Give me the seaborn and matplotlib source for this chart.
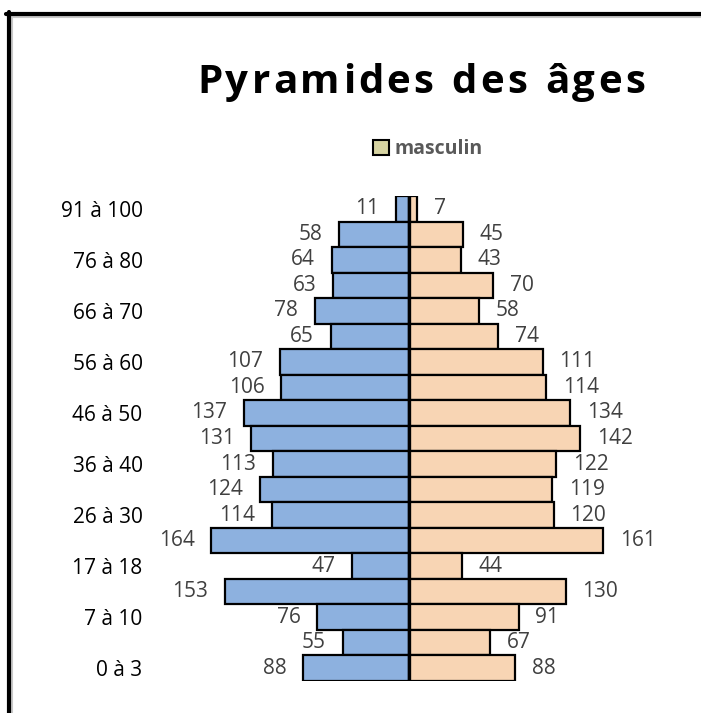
import pandas as pd
import seaborn as sns
import matplotlib.pyplot as plt
from matplotlib.patches import Patch
from matplotlib.lines import Line2D

# tranches d'âge, du bas vers le haut
tranches = ['0 à 3', '4 à 6', '7 à 10', '11 à 16', '17 à 18', '19 à 25',
            '26 à 30', '31 à 35', '36 à 40', '41 à 45', '46 à 50', '51 à 55',
            '56 à 60', '61 à 65', '66 à 70', '71 à 75', '76 à 80', '81 à 90',
            '91 à 100']
feminin = [88, 55, 76, 153, 47, 164, 114, 124, 113, 131, 137, 106, 107,
           65, 78, 63, 64, 58, 11]
masculin = [88, 67, 91, 130, 44, 161, 120, 119, 122, 142, 134, 114, 111,
            74, 58, 70, 43, 45, 7]
titre = 'Pyramides des âges'


def titre_espace(fig, texte, x0, x1, y, **kw):
    # pas de letter-spacing dans matplotlib : on pose les lettres une par une
    r = fig.canvas.get_renderer()
    largeurs = []
    for c in texte:
        t = fig.text(0, 0, c, **kw)
        largeurs.append(t.get_window_extent(r).width if c != ' ' else None)
        t.remove()
    esp = fig.text(0, 0, 'n', **kw)
    w_esp = esp.get_window_extent(r).width * 0.45
    esp.remove()
    largeurs = [w if w is not None else w_esp for w in largeurs]
    W = fig.get_figwidth() * fig.dpi
    total = (x1 - x0) * W
    gap = (total - sum(largeurs)) / (len(texte) - 1)
    x = x0 * W
    for c, w in zip(texte, largeurs):
        fig.text(x / W, y, c, ha='left', va='baseline', **kw)
        x += w + gap


def main():
    sns.set_style('white')
    plt.rcParams['font.family'] = ['Open Sans', 'DejaVu Sans']

    df = pd.DataFrame({'tranche': tranches,
                       'feminin': [-v for v in feminin],
                       'masculin': masculin})
    order = tranches[::-1]  # seaborn met la première catégorie en haut

    fig = plt.figure(figsize=(7.01, 7.13), dpi=100)
    ax = fig.add_axes([162 / 701, 1 - 681 / 713, 488 / 701, 485 / 713])

    sns.barplot(data=df, x='feminin', y='tranche', order=order, orient='h',
                color='#8DB1DF', saturation=1, width=1,
                edgecolor='black', linewidth=1.6, ax=ax)
    sns.barplot(data=df, x='masculin', y='tranche', order=order, orient='h',
                color='#F8D5B4', saturation=1, width=1,
                edgecolor='black', linewidth=1.6, ax=ax)

    cont_f, cont_m = ax.containers[0], ax.containers[1]
    ax.bar_label(cont_f, labels=[str(v) for v in feminin[::-1]], padding=12,
                 fontsize=15, color='#404040')
    ax.bar_label(cont_m, labels=[str(v) for v in masculin[::-1]], padding=12,
                 fontsize=15, color='#404040')

    ax.axvline(0, color='black', lw=2.4, zorder=5)

    ax.set_xlim(-205, 200)
    ax.set_ylim(len(order) - 0.5, -0.5)
    ax.set_xticks([])
    ax.set_yticks(range(len(order)))
    ax.set_yticklabels([t if i % 2 == 0 else '' for i, t in enumerate(order)],
                       fontsize=15, color='black')
    ax.tick_params(axis='y', length=0, pad=14)
    ax.set_xlabel('')
    ax.set_ylabel('')
    for s in ax.spines.values():
        s.set_visible(False)

    titre_espace(fig, titre, 197 / 701, 645 / 701, 1 - 93 / 713,
                 fontsize=29, fontweight='bold', color='black')

    fig.legend(handles=[Patch(facecolor='#D7D4A2', edgecolor='black',
                              linewidth=1.5, label='masculin')],
               loc='center', bbox_to_anchor=(428 / 701, 1 - 149 / 713),
               frameon=False, handlelength=0.8, handleheight=0.8,
               handletextpad=0.3,
               prop={'size': 14, 'weight': 'bold'}, labelcolor='#595959')

    # cadre
    fig.add_artist(Line2D([10 / 701, 1], [1 - 17 / 713] * 2, color='#c8c8c8',
                          lw=1.5, transform=fig.transFigure))
    fig.add_artist(Line2D([12 / 701] * 2, [0, 1 - 16 / 713], color='#c8c8c8',
                          lw=1.5, transform=fig.transFigure))
    fig.add_artist(Line2D([6 / 701, 1], [1 - 13.5 / 713] * 2, color='black',
                          lw=3, transform=fig.transFigure))
    fig.add_artist(Line2D([8.5 / 701] * 2, [0, 1 - 12 / 713], color='black',
                          lw=3, transform=fig.transFigure))

    plt.savefig('out.png', dpi=100)


if __name__ == '__main__':
    main()
